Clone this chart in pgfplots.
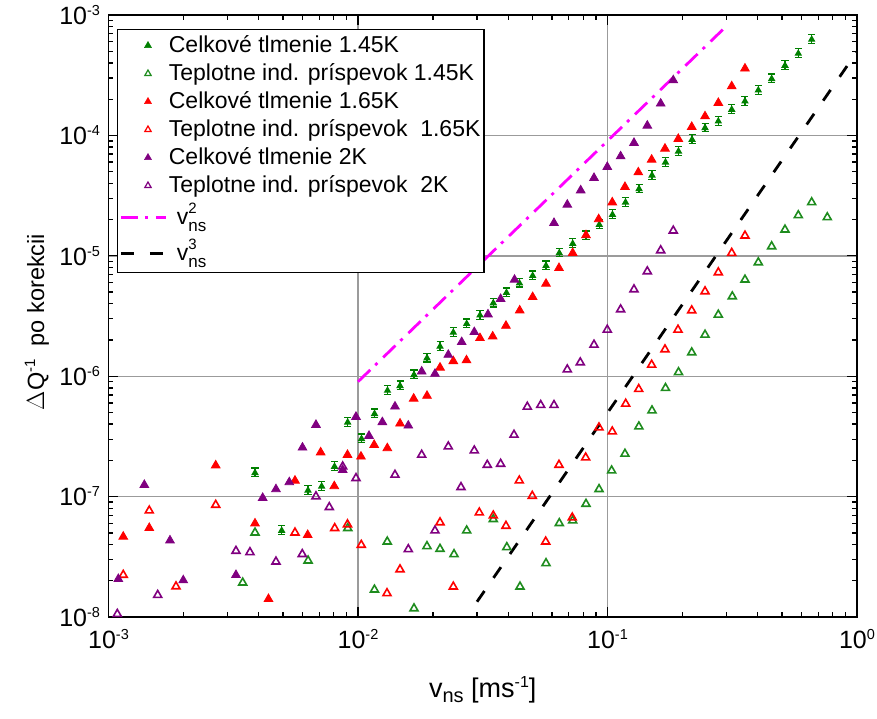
\documentclass[border=0pt]{standalone}
\usepackage{fontspec}
\setmainfont{Liberation Sans}
\usepackage{pgfplots}
\usepackage{pgfplotstable}
\pgfplotsset{compat=1.18}

\definecolor{cgreen}{RGB}{0,128,0}
\definecolor{cgreenopen}{RGB}{30,140,30}
\definecolor{cred}{RGB}{255,0,0}
\definecolor{cpurple}{RGB}{128,0,128}
\definecolor{cmag}{RGB}{255,0,255}
\definecolor{cgrid}{RGB}{155,155,155}

\newcommand\legfont{\fontsize{23}{27}\selectfont}
\newcommand\tickfont{\fontsize{25}{30}\selectfont}
% power-of-ten tick label
\newcommand\pten[1]{10\raisebox{9pt}{\fontsize{14.5}{15}\selectfont #1}}
% v_ns with a power, as in the legend
\newcommand\vns[1]{v\rlap{\raisebox{11pt}{\fontsize{15}{15}\selectfont #1}}\raisebox{-7pt}{\fontsize{17}{17}\selectfont ns}}

% small filled triangle with error-bar caps
\pgfdeclareplotmark{tribar}{%
  \pgfpathmoveto{\pgfqpoint{0pt}{\pgfplotmarksize}}%
  \pgfpathlineto{\pgfqpoint{-0.866\pgfplotmarksize}{-0.5\pgfplotmarksize}}%
  \pgfpathlineto{\pgfqpoint{0.866\pgfplotmarksize}{-0.5\pgfplotmarksize}}%
  \pgfpathclose
  \pgfusepathqfillstroke
  \pgfpathmoveto{\pgfqpoint{-1.1\pgfplotmarksize}{1.5\pgfplotmarksize}}%
  \pgfpathlineto{\pgfqpoint{1.1\pgfplotmarksize}{1.5\pgfplotmarksize}}%
  \pgfpathmoveto{\pgfqpoint{0pt}{1.5\pgfplotmarksize}}%
  \pgfpathlineto{\pgfqpoint{0pt}{-1.2\pgfplotmarksize}}%
  \pgfpathmoveto{\pgfqpoint{-1.1\pgfplotmarksize}{-1.2\pgfplotmarksize}}%
  \pgfpathlineto{\pgfqpoint{1.1\pgfplotmarksize}{-1.2\pgfplotmarksize}}%
  \pgfusepathqstroke
}

% Celkove tlmenie 1.45 K
\pgfplotstableread{
x y
3.866e-3 1.574e-7
4.945e-3 5.22e-8
6.304e-3 1.126e-7
7.152e-3 1.216e-7
8.052e-3 1.776e-7
9.093e-3 4.14e-7
1.033e-2 3.017e-7
1.165e-2 4.87e-7
1.313e-2 7.605e-7
1.474e-2 8.32e-7
1.677e-2 1.027e-6
1.891e-2 1.414e-6
2.132e-2 1.766e-6
2.410e-2 2.308e-6
2.727e-2 2.727e-6
3.083e-2 3.207e-6
3.486e-2 4.051e-6
3.937e-2 4.935e-6
4.439e-2 5.918e-6
5.013e-2 6.83e-6
5.670e-2 8.275e-6
6.409e-2 1.055e-5
7.254e-2 1.261e-5
8.200e-2 1.469e-5
9.270e-2 1.814e-5
0.1047 2.196e-5
0.1181 2.779e-5
0.1338 3.592e-5
0.1508 4.66e-5
0.1708 5.975e-5
0.1926 7.376e-5
0.2182 9.23e-5
0.2460 1.154e-4
0.2781 1.31e-4
0.3147 1.639e-4
0.3557 1.921e-4
0.4022 2.371e-4
0.4550 2.949e-4
0.5145 3.804e-4
0.5818 4.786e-4
0.6583 6.256e-4
}\celkA

% Teplotne ind. prispevok 1.45 K
\pgfplotstableread{
x y
3.451e-3 1.928e-8
3.866e-3 5.02e-8
6.31e-3 2.938e-8
9.10e-3 5.462e-8
1.164e-2 1.686e-8
1.31e-2 4.226e-8
1.677e-2 1.177e-8
1.89e-2 3.87e-8
2.132e-2 3.675e-8
2.426e-2 3.32e-8
2.727e-2 5.22e-8
3.486e-2 6.487e-8
3.95e-2 3.797e-8
4.46e-2 1.786e-8
5.67e-2 2.795e-8
6.409e-2 6.01e-8
7.254e-2 6.318e-8
8.2e-2 8.696e-8
9.25e-2 1.152e-7
0.1039 1.645e-7
0.1175 2.265e-7
0.1336 3.818e-7
0.1508 5.187e-7
0.1708 7.963e-7
0.1926 1.078e-6
0.2176 1.574e-6
0.246 2.208e-6
0.2781 3.239e-6
0.3164 4.597e-6
0.3557 6.328e-6
0.4022 8.813e-6
0.455 1.197e-5
0.5145 1.648e-5
0.5818 2.167e-5
0.6583 2.779e-5
0.7603 2.085e-5
}\teplA

% Celkove tlmenie 1.65 K
\pgfplotstableread{
x y
1.146e-3 4.651e-8
1.457e-3 5.494e-8
2.69e-3 1.817e-7
3.866e-3 5.986e-8
4.378e-3 1.411e-8
5.591e-3 1.358e-7
6.287e-3 4.804e-8
7.087e-3 2.33e-7
8.035e-3 1.221e-7
9.076e-3 2.222e-7
1.028e-2 2.15e-7
1.161e-2 2.69e-7
1.311e-2 2.526e-7
1.474e-2 4.045e-7
1.672e-2 6.514e-7
1.891e-2 6.873e-7
2.132e-2 1.179e-6
2.41e-2 1.335e-6
2.722e-2 1.356e-6
3.083e-2 2.073e-6
3.467e-2 2.138e-6
3.919e-2 2.624e-6
4.448e-2 3.516e-6
5.013e-2 4.544e-6
5.67e-2 5.862e-6
6.392e-2 7.919e-6
7.254e-2 1.055e-5
8.2e-2 1.483e-5
9.22e-2 2.015e-5
0.1045 2.779e-5
0.1175 3.732e-5
0.1329 4.935e-5
0.1503 6.29e-5
0.1700 7.767e-5
0.1922 9.352e-5
0.2176 1.177e-4
0.246 1.441e-4
0.2781 1.863e-4
0.3147 2.559e-4
0.3557 3.593e-4
}\celkB

% Teplotne ind. prispevok 1.65 K
\pgfplotstableread{
x y
1.146e-3 2.234e-8
1.457e-3 7.649e-8
1.865e-3 1.793e-8
2.69e-3 8.531e-8
5.591e-3 5.02e-8
8.066e-3 5.462e-8
9.076e-3 5.873e-8
1.031e-2 3.967e-8
1.307e-2 1.574e-8
1.474e-2 2.483e-8
2.132e-2 6.103e-8
2.41e-2 1.786e-8
3.063e-2 7.362e-8
3.486e-2 6.952e-8
3.919e-2 5.707e-8
4.431e-2 1.358e-7
4.995e-2 1.013e-7
5.654e-2 4.226e-8
6.392e-2 1.834e-7
7.225e-2 6.69e-8
8.177e-2 2.109e-7
9.245e-2 3.746e-7
0.1045 3.47e-7
0.1183 5.896e-7
0.1334 7.812e-7
0.1503 1.244e-6
0.17 1.667e-6
0.1917 2.43e-6
0.2176 3.516e-6
0.246 5.06e-6
0.2781 7.278e-6
0.3147 1.055e-5
0.3557 1.469e-5
}\teplB

% Celkove tlmenie 2 K
\pgfplotstableread{
x y
1.095e-3 2.07e-8
1.392e-3 1.251e-7
1.764e-3 4.324e-8
1.994e-3 2.019e-8
3.243e-3 2.234e-8
4.15e-3 9.755e-8
4.691e-3 1.152e-7
5.304e-3 1.317e-7
5.992e-3 2.555e-7
6.786e-3 3.945e-7
8.683e-3 1.667e-7
9.817e-3 4.597e-7
1.107e-2 3.196e-7
1.252e-2 4.155e-7
1.407e-2 5.6e-7
1.591e-2 3.892e-7
1.8e-2 1.094e-6
2.035e-2 1.047e-6
2.301e-2 1.506e-6
2.604e-2 1.921e-6
2.925e-2 2.326e-6
3.319e-2 3.258e-6
3.73e-2 4.382e-6
4.24e-2 6.329e-6
6.104e-2 1.874e-5
6.901e-2 2.659e-5
7.809e-2 3.496e-5
8.83e-2 4.434e-5
9.98e-2 5.472e-5
0.1129 6.704e-5
0.1277 8.666e-5
0.1444 1.206e-4
0.1634 1.838e-4
0.1835 2.871e-4
}\celkC

% Teplotne ind. prispevok 2 K
\pgfplotstableread{
x y
1.085e-3 1.059e-8
1.575e-3 1.523e-8
3.243e-3 3.537e-8
3.69e-3 3.45e-8
4.691e-3 2.882e-8
5.98e-3 3.327e-8
6.786e-3 1.004e-7
7.674e-3 8.164e-8
8.683e-3 1.776e-7
9.817e-3 1.422e-7
1.407e-2 1.515e-7
1.591e-2 3.654e-8
1.8e-2 2.222e-7
2.035e-2 5.217e-8
2.301e-2 2.604e-7
2.587e-2 1.197e-7
2.925e-2 2.412e-7
3.298e-2 1.834e-7
3.73e-2 1.869e-7
4.22e-2 3.258e-7
4.771e-2 5.568e-7
5.4e-2 5.753e-7
6.104e-2 5.753e-7
6.901e-2 1.137e-6
7.78e-2 1.30e-6
8.83e-2 1.824e-6
9.98e-2 2.43e-6
0.1129 3.584e-6
0.1277 5.256e-6
0.1444 7.419e-6
0.1634 1.109e-5
0.1835 1.617e-5
}\teplC

\begin{document}
\begin{tikzpicture}
\begin{axis}[
  name=ax,
  scale only axis,
  width=748.5pt, height=602pt,
  xmode=log, ymode=log,
  xmin=1e-3, xmax=1, ymin=1e-8, ymax=1e-3,
  axis line style={line width=1.6pt, black},
  tick align=inside,
  xtick pos=both, ytick pos=both,
  major tick length=10pt, minor tick length=5pt,
  tick style={black, line width=1.3pt},
  xmajorgrids, ymajorgrids,
  major grid style={cgrid, line width=1.4pt},
  xtick={1e-3,1e-2,1e-1,1},
  xticklabels={\pten{-3},\pten{-2},\pten{-1},\pten{0}},
  ytick={1e-8,1e-7,1e-6,1e-5,1e-4,1e-3},
  yticklabels={\pten{-8},\pten{-7},\pten{-6},\pten{-5},\pten{-4},\pten{-3}},
  minor xtick={2e-3,3e-3,4e-3,5e-3,6e-3,7e-3,8e-3,9e-3,
               2e-2,3e-2,4e-2,5e-2,6e-2,7e-2,8e-2,9e-2,
               0.2,0.3,0.4,0.5,0.6,0.7,0.8,0.9},
  minor ytick={2e-8,3e-8,4e-8,5e-8,6e-8,7e-8,8e-8,9e-8,
               2e-7,3e-7,4e-7,5e-7,6e-7,7e-7,8e-7,9e-7,
               2e-6,3e-6,4e-6,5e-6,6e-6,7e-6,8e-6,9e-6,
               2e-5,3e-5,4e-5,5e-5,6e-5,7e-5,8e-5,9e-5,
               2e-4,3e-4,4e-4,5e-4,6e-4,7e-4,8e-4,9e-4},
  ticklabel style={font=\tickfont},
  xticklabel style={yshift=-9pt},
  yticklabel style={xshift=-5pt},
  xlabel={\fontsize{27}{32}\selectfont v\raisebox{-5pt}{\fontsize{20}{20}\selectfont ns} [ms\raisebox{10pt}{\fontsize{16}{16}\selectfont -1}]},
  xlabel style={at={(axis description cs:0.5,-0.121)}, anchor=center},
  ylabel={\fontsize{23.5}{28}\selectfont $\Delta$Q\raisebox{9pt}{\fontsize{15}{15}\selectfont -1}\ \ po korekcii},
  ylabel style={at={(axis description cs:-0.0955,0.49)}, anchor=center},
  legend style={at={(axis description cs:0.01136,0.97674)}, anchor=north west,
    draw=black, line width=1.2pt, fill=white, inner xsep=2pt, inner ysep=2pt,
    font=\legfont, nodes={inner sep=1.5pt, text height=19pt, text depth=6pt},
    row sep=0pt, column sep=0pt},
  legend cell align=left,
  legend image code/.code={\draw[mark repeat=2,mark phase=2,#1]
    plot coordinates {(0pt,0pt) (27pt,0pt) (45pt,0pt)};},
]
% legend entries
\addlegendimage{only marks, mark=triangle*, color=cgreen, mark size=4pt, line width=0.6pt}
\addlegendentry{Celkové tlmenie 1.45K}
\addlegendimage{only marks, mark=triangle, color=cgreenopen, mark size=3.6pt, line width=1.2pt}
\addlegendentry{Teplotne ind. príspevok 1.45K}
\addlegendimage{only marks, mark=triangle*, color=cred, mark size=4pt, line width=0.6pt}
\addlegendentry{Celkové tlmenie 1.65K}
\addlegendimage{only marks, mark=triangle, color=cred, mark size=3.6pt, line width=1.2pt}
\addlegendentry{Teplotne ind. príspevok\ \ 1.65K}
\addlegendimage{only marks, mark=triangle*, color=cpurple, mark size=4pt, line width=0.6pt}
\addlegendentry{Celkové tlmenie 2K}
\addlegendimage{only marks, mark=triangle, color=cpurple, mark size=3.6pt, line width=1.2pt}
\addlegendentry{Teplotne ind. príspevok\ \ 2K}
\addlegendimage{cmag, line width=2.8pt, dash pattern=on 17pt off 7pt on 3pt off 8pt}
\addlegendentry[text height=23pt, text depth=10pt]{\hspace{8pt}\vns{2}}
\addlegendimage{black, line width=2.8pt, dash pattern=on 13pt off 16pt}
\addlegendentry[text height=23pt, text depth=9pt]{\hspace{8pt}\vns{3}}

% reference slopes
\addplot[forget plot, cmag, line width=2.8pt, dash pattern=on 17pt off 7pt on 3pt off 8pt]
  coordinates {(0.01,9e-7) (0.3,8.1e-4)};
\addplot[forget plot, black, line width=2.8pt, dash pattern=on 13pt off 16pt]
  coordinates {(0.03,1.34e-8) (1,4.96e-4)};

% measured points
\addplot[forget plot, only marks, mark=tribar, color=cgreen, mark size=3.2pt,
  mark options={line width=1.2pt}] table {\celkA};
\addplot[forget plot, only marks, mark=triangle, color=cgreenopen, mark size=4.6pt,
  mark options={line width=1.6pt}] table {\teplA};
\addplot[forget plot, only marks, mark=triangle*, color=cred, mark size=5pt,
  mark options={line width=0.8pt}] table {\celkB};
\addplot[forget plot, only marks, mark=triangle, color=cred, mark size=4.6pt,
  mark options={line width=1.6pt}] table {\teplB};
\addplot[forget plot, only marks, mark=triangle*, color=cpurple, mark size=5pt,
  mark options={line width=0.8pt}] table {\celkC};
\addplot[forget plot, only marks, mark=triangle, color=cpurple, mark size=4.6pt,
  mark options={line width=1.6pt}] table {\teplC};
\end{axis}
\pgfresetboundingbox
\path[use as bounding box] ([xshift=-108.5pt,yshift=-101pt]ax.south west)
  rectangle ([xshift=20pt,yshift=15pt]ax.north east);
\end{tikzpicture}
\end{document}
